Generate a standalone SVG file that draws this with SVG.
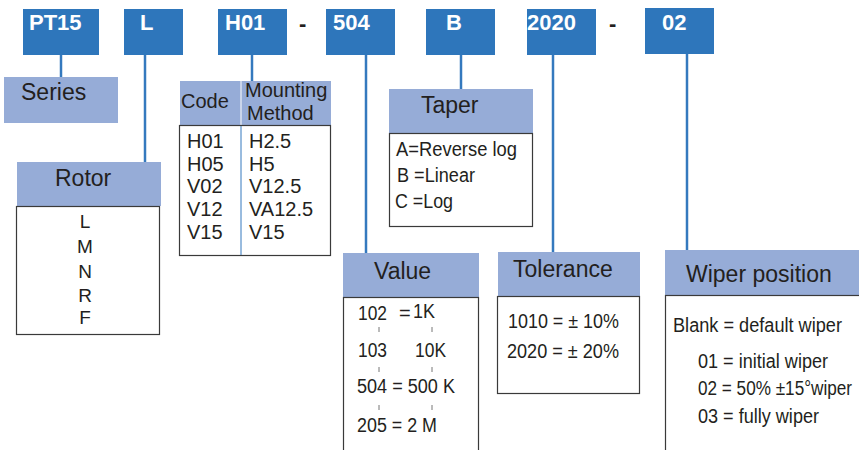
<svg xmlns="http://www.w3.org/2000/svg" width="859" height="450" viewBox="0 0 859 450">
<style>
.code{fill:#2e76bb}
.codet{font-family:"Liberation Sans",Arial,sans-serif;font-weight:bold;font-size:22px;fill:#ffffff}
.dash{font-family:"Liberation Sans",Arial,sans-serif;font-weight:bold;font-size:22px;fill:#231f20}
.hdr{fill:#96acd7}
.hdrt{font-family:"Liberation Sans",Arial,sans-serif;font-size:23px;fill:#231f20}
.sub{font-family:"Liberation Sans",Arial,sans-serif;font-size:20px;fill:#231f20}
.body{fill:#ffffff;stroke:#3a3a3a;stroke-width:1.2}
.bt{font-family:"Liberation Sans",Arial,sans-serif;font-size:20px;fill:#231f20}
.conn{stroke:#3479be;stroke-width:2.5;fill:none}
.tick{stroke:#777777;stroke-width:1}
</style>
<g id="connectors">
<line class="conn" x1="61" y1="55" x2="61" y2="78"/>
<line class="conn" x1="145" y1="55" x2="145" y2="163"/>
<line class="conn" x1="252" y1="55" x2="252" y2="82"/>
<line class="conn" x1="366" y1="55" x2="366" y2="254"/>
<line class="conn" x1="461" y1="55" x2="461" y2="90"/>
<line class="conn" x1="553" y1="55" x2="553" y2="253"/>
<line class="conn" x1="687" y1="54" x2="687" y2="251"/>
</g>
<g id="code-PT15"><rect class="code" x="23" y="9" width="76" height="46"/><text class="codet" x="29" y="30">PT15</text></g>
<g id="code-L"><rect class="code" x="124" y="9" width="59" height="46"/><text class="codet" x="140" y="30">L</text></g>
<g id="code-H01"><rect class="code" x="218" y="9" width="69" height="46"/><text class="codet" x="225" y="30">H01</text></g>
<g id="dash1"><text class="dash" x="299" y="31">-</text></g>
<g id="code-504"><rect class="code" x="326" y="9" width="69" height="46"/><text class="codet" x="333" y="30">504</text></g>
<g id="code-B"><rect class="code" x="426" y="9" width="69" height="46"/><text class="codet" x="446" y="30">B</text></g>
<g id="code-2020"><rect class="code" x="527" y="9" width="69" height="46"/><text class="codet" x="527" y="30">2020</text></g>
<g id="dash2"><text class="dash" x="609" y="31">-</text></g>
<g id="code-02"><rect class="code" x="645" y="8" width="69" height="46"/><text class="codet" x="662" y="30">02</text></g>

<g id="series"><rect class="hdr" x="4" y="77" width="114" height="46"/><text class="hdrt" x="21" y="100">Series</text></g>

<g id="rotor">
<rect class="hdr" x="17" y="162" width="144" height="44"/>
<text class="hdrt" x="55" y="186">Rotor</text>
<rect class="body" x="16.5" y="206.5" width="143" height="128"/>
<g class="bt" text-anchor="middle" style="font-size:19px">
<text x="85" y="228">L</text>
<text x="85" y="253">M</text>
<text x="85" y="278">N</text>
<text x="85" y="302">R</text>
<text x="85" y="324">F</text>
</g>
</g>

<g id="mounting">
<rect class="hdr" x="180" y="81" width="151" height="44"/>
<line x1="241" y1="81" x2="241" y2="125" stroke="#ffffff" stroke-width="1"/>
<text class="sub" x="181" y="108">Code</text>
<text class="sub" x="245" y="97">Mounting</text>
<text class="sub" x="247" y="120">Method</text>
<rect class="body" x="179.5" y="125.5" width="151" height="130"/>
<line x1="241" y1="126" x2="241" y2="255" stroke="#3479be" stroke-width="1"/>
<g class="sub">
<text x="187" y="148">H01</text><text x="249" y="148">H2.5</text>
<text x="187" y="171">H05</text><text x="249" y="171">H5</text>
<text x="187" y="193">V02</text><text x="249" y="193">V12.5</text>
<text x="187" y="216">V12</text><text x="249" y="216">VA12.5</text>
<text x="187" y="239">V15</text><text x="249" y="239">V15</text>
</g>
</g>

<g id="taper">
<rect class="hdr" x="389" y="89" width="144" height="44"/>
<text class="hdrt" x="421" y="113">Taper</text>
<rect class="body" x="389.5" y="133.5" width="143" height="93"/>
<text class="bt" x="396" y="156" textLength="121" lengthAdjust="spacingAndGlyphs">A=Reverse log</text>
<text class="bt" x="397" y="182" textLength="78" lengthAdjust="spacingAndGlyphs">B =Linear</text>
<text class="bt" x="395" y="208" textLength="58" lengthAdjust="spacingAndGlyphs">C =Log</text>
</g>

<g id="value">
<rect class="hdr" x="343" y="253" width="136" height="44"/>
<text class="hdrt" x="374" y="279">Value</text>
<rect class="body" x="343.5" y="297.5" width="135" height="160"/>
<g class="tick">
<line x1="379" y1="327" x2="379" y2="332"/><line x1="379" y1="367" x2="379" y2="372"/><line x1="379" y1="405" x2="379" y2="410"/>
<line x1="432" y1="327" x2="432" y2="332"/><line x1="432" y1="367" x2="432" y2="372"/><line x1="432" y1="405" x2="432" y2="410"/>
</g>
<g class="bt">
<text x="358" y="320" textLength="29" lengthAdjust="spacingAndGlyphs">102</text><text x="399" y="320">=</text><text x="413" y="318" textLength="22" lengthAdjust="spacingAndGlyphs">1K</text>
<text x="358" y="357" textLength="29" lengthAdjust="spacingAndGlyphs">103</text><text x="415" y="357" textLength="31" lengthAdjust="spacingAndGlyphs">10K</text>
<text x="357" y="393" textLength="98" lengthAdjust="spacingAndGlyphs">504 = 500 K</text>
<text x="357" y="432" textLength="80" lengthAdjust="spacingAndGlyphs">205 = 2 M</text>
</g>
</g>

<g id="tolerance">
<rect class="hdr" x="498" y="252" width="142" height="44"/>
<text class="hdrt" x="513" y="277">Tolerance</text>
<rect class="body" x="497.5" y="296.5" width="142" height="97"/>
<text class="bt" x="508" y="328" textLength="111" lengthAdjust="spacingAndGlyphs">1010 = ± 10%</text>
<text class="bt" x="507" y="358" textLength="112" lengthAdjust="spacingAndGlyphs">2020 = ± 20%</text>
</g>

<g id="wiper">
<rect class="hdr" x="665" y="250" width="200" height="45"/>
<text class="hdrt" x="686" y="282">Wiper position</text>
<rect class="body" x="665.5" y="295.5" width="200" height="160"/>
<text class="bt" x="673" y="332" textLength="169" lengthAdjust="spacingAndGlyphs">Blank = default wiper</text>
<text class="bt" x="698" y="368" textLength="130" lengthAdjust="spacingAndGlyphs">01 = initial wiper</text>
<text class="bt" x="698" y="395" textLength="154" lengthAdjust="spacingAndGlyphs">02 = 50% ±15°wiper</text>
<text class="bt" x="698" y="423" textLength="121" lengthAdjust="spacingAndGlyphs">03 = fully wiper</text>
</g>
</svg>
